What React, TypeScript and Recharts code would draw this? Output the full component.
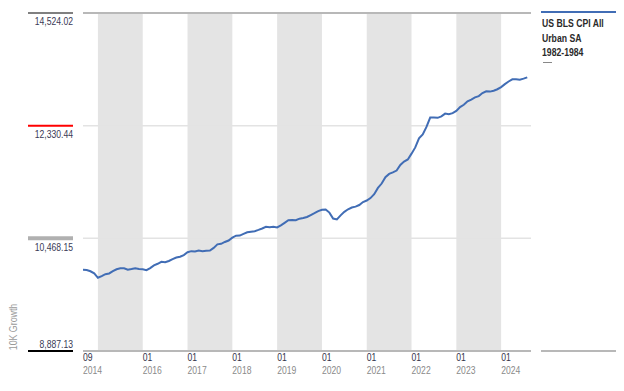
import React from 'react';
import { LineChart, Line, XAxis, YAxis, ReferenceArea, ReferenceLine } from 'recharts';

// Monthly growth of 10K, Sep 2014 .. Aug 2024
const months: string[] = [];
const startYear = 2014;
const startMonth = 9;
for (let i = 0; i < 120; i++) {
  const m = ((startMonth - 1 + i) % 12) + 1;
  const y = startYear + Math.floor((startMonth - 1 + i) / 12);
  months.push(`${y}-${String(m).padStart(2, '0')}`);
}

const cpiGrowth: number[] = [
  10000, 9998, 9979, 9948,
  9885, 9910, 9937, 9947, 9980, 10008, 10023, 10023, 10001, 10011, 10023, 10012,
  10007, 9994, 10025, 10064, 10088, 10116, 10110, 10129, 10156, 10180, 10192, 10217,
  10259, 10275, 10270, 10283, 10275, 10282, 10285, 10324, 10377, 10385, 10413, 10435,
  10479, 10508, 10510, 10537, 10561, 10570, 10578, 10597, 10619, 10644, 10637, 10644,
  10635, 10667, 10707, 10748, 10750, 10747, 10772, 10782, 10798, 10829, 10859, 10891,
  10912, 10917, 10867, 10774, 10759, 10824, 10879, 10920, 10948, 10962, 10987, 11035,
  11060, 11099, 11162, 11264, 11336, 11441, 11496, 11520, 11551, 11647, 11704, 11740,
  11839, 11947, 12107, 12174, 12308, 12477, 12476, 12472, 12498, 12549, 12536, 12556,
  12598, 12668, 12710, 12774, 12807, 12848, 12872, 12929, 12961, 12956, 12973, 13001,
  13041, 13098, 13148, 13189, 13190, 13182, 13203, 13227,
];

const yTicks: number[] = [8887.13, 10468.15, 12330.44, 14524.02];
const yTickLabels: string[] = ['8,887.13', '10,468.15', '12,330.44', '14,524.02'];

const xTickIndex: number[] = [0, 16, 28, 40, 52, 64, 76, 88, 100, 112];
const xTickMonth: string[] = ['09', '01', '01', '01', '01', '01', '01', '01', '01', '01'];
const xTickYear: string[] = ['2014', '2016', '2017', '2018', '2019', '2020', '2021', '2022', '2023', '2024'];

// shaded (odd) years: start/end month index
const bandStarts: number[] = [4, 28, 52, 76, 100];
const bandEnds: number[] = [16, 40, 64, 88, 112];

const seriesName = 'US BLS CPI All Urban SA 1982-1984';

const data = cpiGrowth.map((v, i) => ({ idx: i, month: months[i], value: v }));

const FONT = 'Arial, "Liberation Sans", sans-serif';
const NARROW = 0.82;

const XTick = (props: any) => {
  const { x, y, payload } = props;
  const k = xTickIndex.indexOf(payload.value);
  if (k < 0) return null;
  return (
    <g transform={`translate(${x},${y}) scale(${NARROW},1)`}>
      <text x={0} y={10} fontSize={10.5} fontFamily={FONT} fill="#33334a">{xTickMonth[k]}</text>
      <text x={0} y={23} fontSize={10.5} fontFamily={FONT} fill="#8a8a8a">{xTickYear[k]}</text>
    </g>
  );
};

const ruleStyles = [
  { stroke: '#000000', w: 2 },
  { stroke: '#b0b0b0', w: 4 },
  { stroke: '#ff0000', w: 2 },
  { stroke: '#808080', w: 2 },
];

const YTick = (props: any) => {
  const { x, y, payload } = props;
  let k = yTicks.indexOf(payload.value);
  if (k < 0) k = yTicks.findIndex((t) => Math.abs(t - payload.value) < 0.5);
  if (k < 0) return null;
  const isBottom = k === 0;
  const ax = Number(x) - 10;
  const ay = Number(y);
  const rs = ruleStyles[k];
  return (
    <g transform={`translate(${ax},${ay})`}>
      <text x={0} y={isBottom ? -3 : 12.5} textAnchor="end" fontSize={10.5} fontFamily={FONT} fill="#3a3a55" transform={`scale(${NARROW},1)`}>
        {yTickLabels[k]}
      </text>
      <path d="M-45,0H0" stroke={rs.stroke} strokeWidth={rs.w} fill="none" />
    </g>
  );
};

export default function App() {
  const yMin = yTicks[0];
  const yMax = yTicks[yTicks.length - 1];
  return (
    <div style={{ position: 'absolute', left: 0, top: 0, width: 624, height: 391, background: '#fff' }}>
      <LineChart
        width={624}
        height={391}
        data={data}
        margin={{ top: 13, right: 93, left: 0, bottom: 39 }}
      >
        <XAxis
          dataKey="idx"
          type="number"
          domain={[0, 120]}
          ticks={xTickIndex}
          tick={<XTick />}
          axisLine={false}
          tickLine={false}
          tickSize={0}
          tickMargin={0}
          height={1}
          interval={0}
          allowDataOverflow
        />
        <YAxis
          type="number"
          scale="log"
          domain={[yMin, yMax]}
          ticks={yTicks}
          tick={<YTick />}
          axisLine={false}
          tickLine={false}
          tickSize={0}
          tickMargin={0}
          width={83}
          interval={0}
          allowDataOverflow
        />
        {bandStarts.map((s, i) => (
          <ReferenceArea
            key={'b' + i}
            x1={s}
            x2={bandEnds[i]}
            y1={yMin}
            y2={yMax}
            fill="#e4e4e4"
            fillOpacity={1}
            stroke="none"
            ifOverflow="hidden"
          />
        ))}
        <ReferenceLine y={yTicks[1]} stroke="#e3e3e3" strokeWidth={1.5} />
        <ReferenceLine y={yTicks[2]} stroke="#e3e3e3" strokeWidth={1.5} />
        <ReferenceLine y={yMax} stroke="#b8b8b8" strokeWidth={2} />
        <ReferenceLine y={yMin} stroke="#b8b8b8" strokeWidth={2} />
        <Line
          type="linear"
          dataKey="value"
          name={seriesName}
          stroke="#416db5"
          strokeWidth={2}
          dot={false}
          isAnimationActive={false}
        />
      </LineChart>
      <div
        style={{
          position: 'absolute',
          left: 13,
          top: 327,
          transform: 'translate(-50%, -50%) rotate(-90deg) scale(0.88,1)',
          fontFamily: FONT,
          fontSize: 10,
          color: '#9a9a9a',
          whiteSpace: 'nowrap',
        }}
      >
        10K Growth
      </div>
      <div style={{ position: 'absolute', left: 541, top: 11, width: 75, height: 2, background: '#416db5' }} />
      <div
        style={{
          position: 'absolute',
          left: 542,
          top: 16,
          width: 120,
          transform: 'scale(0.81,1)',
          transformOrigin: 'left top',
          fontFamily: FONT,
          fontWeight: 'bold',
          fontSize: 10.7,
          lineHeight: '14.5px',
          color: '#2a2a2a',
          whiteSpace: 'nowrap',
        }}
      >
        US BLS CPI All
        <br />
        Urban SA
        <br />
        1982-1984
      </div>
      <div style={{ position: 'absolute', left: 543, top: 62, width: 9, height: 1, background: '#888' }} />
      <div style={{ position: 'absolute', left: 541, top: 350, width: 75, height: 2, background: '#b8b8b8' }} />
    </div>
  );
}
